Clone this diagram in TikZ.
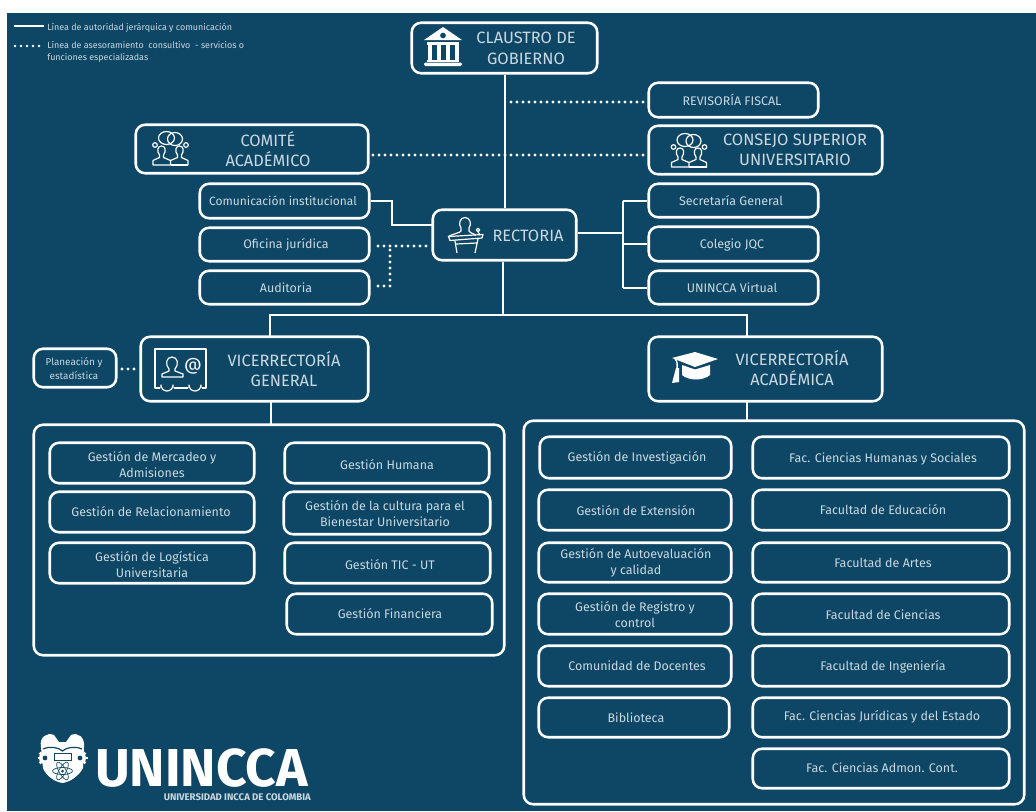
\documentclass[tikz,border=0pt]{standalone}
\usepackage{fontspec}
\setmainfont{Fira Sans}
\newfontfamily\logofont{Fira Sans}
\usetikzlibrary{calc}
\definecolor{bgblue}{HTML}{0E4766}
\definecolor{txtc}{HTML}{CAD8E0}
\tikzset{
  boxst/.style={draw=white,line width=1.9pt,rounded corners=7pt,inner sep=0pt},
  txtst/.style={text=txtc,align=center,inner sep=0pt,font=\fontsize{9.35pt}{12pt}\selectfont},
  narrowtxt/.style={font=\fontsize{9pt}{12pt}\selectfont},
  small/.style={font=\fontsize{7.4pt}{10.5pt}\selectfont},
  big/.style={font=\fontsize{12.3pt}{15pt}\selectfont},
  legendtxt/.style={text=txtc,anchor=west,inner sep=0pt,font=\fontsize{6.7pt}{7pt}\selectfont},
  conn/.style={draw=white,line width=1.5pt},
  dots/.style={draw=white,line width=2.3pt,line cap=round,dash pattern=on 0pt off 4.5pt},
  ic/.style={draw=white,line width=0.9pt,line join=round},
}
% \bx[text style]{name}{x1}{y1}{x2}{y2}{tx}{ty}{text}
\newcommand{\bx}[9][]{%
  \pgfmathsetmacro{\wpx}{(#5-#3-1.5)*0.75}%
  \pgfmathsetmacro{\hpx}{(#6-#4-1.5)*0.75}%
  \node[boxst,minimum width=\wpx pt,minimum height=\hpx pt] (#2) at ({(#3+#5)/2},{(#4+#6)/2}) {};
  \node[txtst,#1] (#2-t) at ({#7},{#8+1}) {#9};
}
\newcommand{\peopleicon}[2]{%
  \begin{scope}[shift={(#1,#2)}]
    \draw[ic] (-4,-10) ellipse [x radius=8,y radius=6.5];
    \draw[ic] (4.5,-9) ellipse [x radius=7.5,y radius=6.5];
    \draw[ic] (-15.5,-3) circle (2.3);
    \draw[ic] (15.5,-3) circle (2.3);
    \draw[ic] (-17.5,17)--(-17.5,12.5)--(-11,9.5)--(-11,7) .. controls (-14,3) and (-13,-2) .. (-9,-2) .. controls (-5,-2) and (-4,3) .. (-7,7)--(-7,9.5)--(0,12.5)--(0,17)--cycle;
    \draw[ic] (17.5,17)--(0,17);
    \draw[ic] (17.5,17)--(17.5,12.5)--(11,9.5)--(11,7) .. controls (14,3) and (13,-2) .. (9,-2) .. controls (5,-2) and (4,3) .. (7,7)--(7,9.5)--(0,12.5);
  \end{scope}}
\newcommand{\logogear}[2]{%
  \foreach \a in {0,45,...,315} {\fill[white,rotate around={\a:(#1,#2)}] (#1-1.4,#2-7.5) rectangle (#1+1.4,#2);}
  \fill[white] (#1,#2) circle (6);
  \fill[bgblue] (#1,#2) circle (2.4);}
\begin{document}
\begin{tikzpicture}[x=0.75pt,y=-0.75pt]
\useasboundingbox (0,0) rectangle (1036,811);
\fill[white] (0,0) rectangle (1036,811);
\fill[bgblue] (7,13) rectangle (1036,811);

% top boxes
\bx[big,font=\fontsize{12.3pt}{15.6pt}\selectfont]{claustro}{411}{22}{598}{74}{526}{47}{CLAUSTRO DE\\GOBIERNO}
\bx{revisoria}{648}{82}{819}{118}{732}{99}{REVISORÍA FISCAL}
\bx[big]{comite}{135}{124}{369}{174}{268}{148}{COMITÉ\\ACADÉMICO}
\bx[big]{consejo}{648}{125}{883}{175}{795}{149}{CONSEJO SUPERIOR\\UNIVERSITARIO}
\bx[narrowtxt]{comunic}{199}{183}{370}{219}{283}{200}{Comunicación institucional}
\bx{secretaria}{648}{183}{819}{218}{731}{199.5}{Secretaría General}
\bx[big]{rectoria}{432}{209}{577}{261}{528}{234.5}{RECTORIA}
\bx{oficina}{199}{227}{370}{262}{286}{243.5}{Oficina jurídica}
\bx{colegio}{648}{226}{819}{262}{732}{243.5}{Colegio JQC}
\bx{auditoria}{199}{270}{370}{305}{286}{286.5}{Auditoria}
\bx{virtual}{648}{270}{819}{305}{732}{286.5}{UNINCCA Virtual}
\bx[small]{planeacion}{33}{348}{117}{388}{74}{367.5}{Planeación y\\estadística}
\bx[big]{vicgen}{140}{336}{369}{402}{284}{368}{VICERRECTORÍA\\GENERAL}
\bx[big]{vicac}{648}{336}{883}{402}{792}{367}{VICERRECTORÍA\\ACADÉMICA}
% containers
\bx{contL}{33}{424}{505}{656}{269}{540}{}
\bx{contR}{523}{420}{1025}{805}{774}{612}{}
% left group
\bx{mercadeo}{49}{442}{255}{484}{152}{463.5}{Gestión de Mercadeo y\\Admisiones}
\bx{relacion}{49}{491}{255}{533}{151}{510.5}{Gestión de Relacionamiento}
\bx{logistica}{49}{542}{255}{584}{152}{563.5}{Gestión de Logística\\Universitaria}
\bx{humana}{284}{442}{490}{484}{387}{463.5}{Gestión Humana}
\bx{cultura}{283}{491}{491}{535}{385}{512.5}{Gestión de la cultura para el\\Bienestar Universitario}
\bx{tic}{284}{542}{491}{584}{390}{563.5}{Gestión TIC - UT}
\bx{financiera}{286}{593}{493}{635}{390}{612.5}{Gestión Financiera}
% right group
\bx{invest}{539}{436}{732}{479}{637}{457}{Gestión de Investigación}
\bx{extension}{538}{489}{732}{531}{636}{509.5}{Gestión de Extensión}
\bx{autoeval}{538}{542}{732}{583}{636}{561.5}{Gestión de Autoevaluación\\y calidad}
\bx{registro}{538}{593}{732}{635}{635}{613.5}{Gestión de Registro y\\control}
\bx{comunidad}{538}{645}{732}{687}{637}{664.5}{Comunidad de Docentes}
\bx{biblioteca}{538}{697}{730}{738}{636}{716.5}{Biblioteca}
\bx{fachum}{752}{436}{1010}{479}{883}{457.5}{Fac. Ciencias Humanas y Sociales}
\bx{facedu}{752}{489}{1010}{531}{883}{508.5}{Facultad de Educación}
\bx{facart}{752}{542}{1010}{583}{883}{561.5}{Facultad de Artes}
\bx{faccie}{752}{593}{1010}{635}{883}{613.5}{Facultad de Ciencias}
\bx{facing}{752}{645}{1010}{687}{883}{665.5}{Facultad de Ingeniería}
\bx{facjur}{752}{697}{1010}{738}{882}{715.5}{Fac. Ciencias Jurídicas y del Estado}
\bx{facadm}{752}{748}{1010}{789}{882}{766.5}{Fac. Ciencias Admon. Cont.}

% free-end coordinates
\coordinate (hub) at (503,315);
\coordinate (vgtop) at (270,336);
\coordinate (vatop) at (747,336);
\coordinate (vabot) at (747,402);
\coordinate (crtop) at (747,420);
\coordinate (vgbot) at (271,402);
\coordinate (cltop) at (271,424);
\coordinate (rstub) at (623,233);
\coordinate (ri) at (432,225);
\coordinate (rj) at (432,246);
\coordinate (dotR) at (511,102);
\coordinate (dotC) at (373,155);
\coordinate (dotO) at (378,246);
\coordinate (dotA) at (378,286);
\coordinate (dotJ) at (390,246);
\coordinate (dotP) at (122,369);

% solid connectors
\draw[conn] (claustro) -- (rectoria);
\draw[conn] (rectoria.south -| hub) -- (hub);
\draw[conn] (vgtop) |- (hub) -| (vatop);
\draw[conn] (vabot) -- (crtop);
\draw[conn] (vgbot) -- (cltop);
\draw[conn] (rectoria.east |- rstub) -- (rstub);
\draw[conn] (rstub |- secretaria) -- (rstub |- virtual);
\draw[conn] (rstub |- secretaria) -- (secretaria.west);
\draw[conn] (rstub |- colegio) -- (colegio.west);
\draw[conn] (rstub |- virtual) -- (virtual.west);
\draw[conn] (comunic.east) -- (392,201) |- (ri);
% dotted connectors
\draw[dots] (dotR) -- (revisoria.west |- dotR);
\draw[dots] (dotC) -- (consejo.west |- dotC);
\draw[dots] (dotO) -- (rj);
\draw[dots] (dotA) -- (dotA -| dotJ) -- (dotJ);
\draw[dots] (dotP) -- (vicgen.west |- dotP);

% legend
\coordinate (legA) at (14,26);
\coordinate (legB) at (44,26);
\coordinate (legC) at (15,46);
\coordinate (legD) at (44,46);
\draw[conn] (legA) -- (legB);
\draw[dots,line width=2pt] (legC) -- (legD);
\node[legendtxt] (leg1) at (47,28) {Línea de autoridad jerárquica y comunicación};
\node[legendtxt] (leg2) at (47,45) {Línea de asesoramiento\ \ consultivo\ \ - servicios o};
\node[legendtxt] (leg3) at (47,58) {funciones especializadas};

% icons: bank
\begin{scope}
  \fill[white,even odd rule] (424,40)--(443,27)--(462,40)--cycle (446,35.5) arc[start angle=0,end angle=360,radius=3];
  \fill[white] (427,41.5) rectangle (459,44.5);
  \foreach \cx in {430,439,448,457} {\fill[white] (\cx-2.3,45) rectangle (\cx+2.3,60);}
  \fill[white] (427,60) rectangle (459,62);
  \fill[white,rounded corners=1pt] (424,62.5) rectangle (462,66);
\end{scope}
% icons: people
\peopleicon{170.5}{148}
\peopleicon{689}{150}
% icon: podium
\begin{scope}
  \draw[ic] (448.5,236.5) .. controls (455,233) and (460,233) .. (461,231) -- (461,228) .. controls (458,224) and (460,217.5) .. (465,217.5) .. controls (470,217.5) and (472,224) .. (469,228) -- (469,231) .. controls (470,233) and (474,234) .. (476,235);
  \draw[ic] (448.5,236.5) -- (483,234.5) -- (482,238) -- (450,240.5) -- cycle;
  \draw[ic] (455,241) -- (457,253);
  \draw[ic] (478,239) -- (475,253);
  \draw[ic] (456,244) -- (477,243);
  \draw[ic] (478,230) circle (1.8);
  \draw[ic] (478,232) -- (480,235);
\end{scope}
% icon: contact card
\begin{scope}
  \draw[ic] (155,349) rectangle (206,388);
  \fill[bgblue] (160,385.5) rectangle (174,389);
  \fill[bgblue] (188,385.5) rectangle (202,389);
  \draw[ic] (161,388) -- (161,385) arc[start angle=180,end angle=0,radius=6] -- (173,388);
  \draw[ic] (189,388) -- (189,385) arc[start angle=180,end angle=0,radius=6] -- (201,388);
  \draw[ic] (162,377) -- (162,374) -- (169,371) -- (169,369) .. controls (165,365) and (166,357) .. (172,357) .. controls (178,357) and (179,365) .. (175,369) -- (175,371) -- (183,374) -- (183,377) -- cycle;
  \node[text=white,inner sep=0pt,font=\fontsize{13pt}{14pt}\selectfont] (atsign) at (193,366) {@};
\end{scope}
% icon: graduation cap
\begin{scope}
  \fill[white] (672,358) -- (695,352) -- (718,359) -- (695,367) -- cycle;
  \fill[white] (682,365) -- (695,369.5) -- (710,365) -- (710,375) .. controls (703,381) and (689,381) .. (682,375) -- cycle;
  \draw[white,line width=1pt] (675,359) .. controls (678,361) and (677,366) .. (677,370);
  \fill[white] (676,368) -- (679,368) -- (679,382) -- (672,383) -- cycle;
\end{scope}
% logo
\begin{scope}
  \fill[white] (41,747) .. controls (39,737) and (47,732) .. (54,735) -- (59,742) -- (66,742) -- (71,735) .. controls (78,732) and (85,737) .. (84,747) -- (83,768) .. controls (79,776) and (70,782) .. (62.5,783) .. controls (55,782) and (46,776) .. (43,768) -- cycle;
  \logogear{45}{758}
  \logogear{80}{758}
  \draw[bgblue,line width=0.9pt] (43,749) .. controls (50,746) and (58,747) .. (62.5,751) .. controls (67,747) and (75,746) .. (82,749);
  \draw[bgblue,line width=0.6pt] (54,753) rectangle (71,760);
  \draw[bgblue,line width=0.5pt] (62.5,771) ellipse [x radius=10,y radius=3.5];
  \draw[bgblue,line width=0.5pt,rotate around={60:(62.5,771)}] (62.5,771) ellipse [x radius=10,y radius=3.5];
  \draw[bgblue,line width=0.5pt,rotate around={-60:(62.5,771)}] (62.5,771) ellipse [x radius=10,y radius=3.5];
  \fill[bgblue] (62.5,771) circle (1.5);
\end{scope}
\node[text=white,inner sep=0pt,anchor=base west,text depth=0pt,font=\logofont\bfseries\fontsize{40pt}{44pt}\selectfont] (logotxt) at (95,786) {UNINCCA};
\node[text=txtc,inner sep=0pt,anchor=east,font=\logofont\bfseries\fontsize{7.2pt}{8pt}\selectfont] (logosub) at (311,797) {UNIVERSIDAD INCCA DE COLOMBIA};
\end{tikzpicture}
\end{document}
